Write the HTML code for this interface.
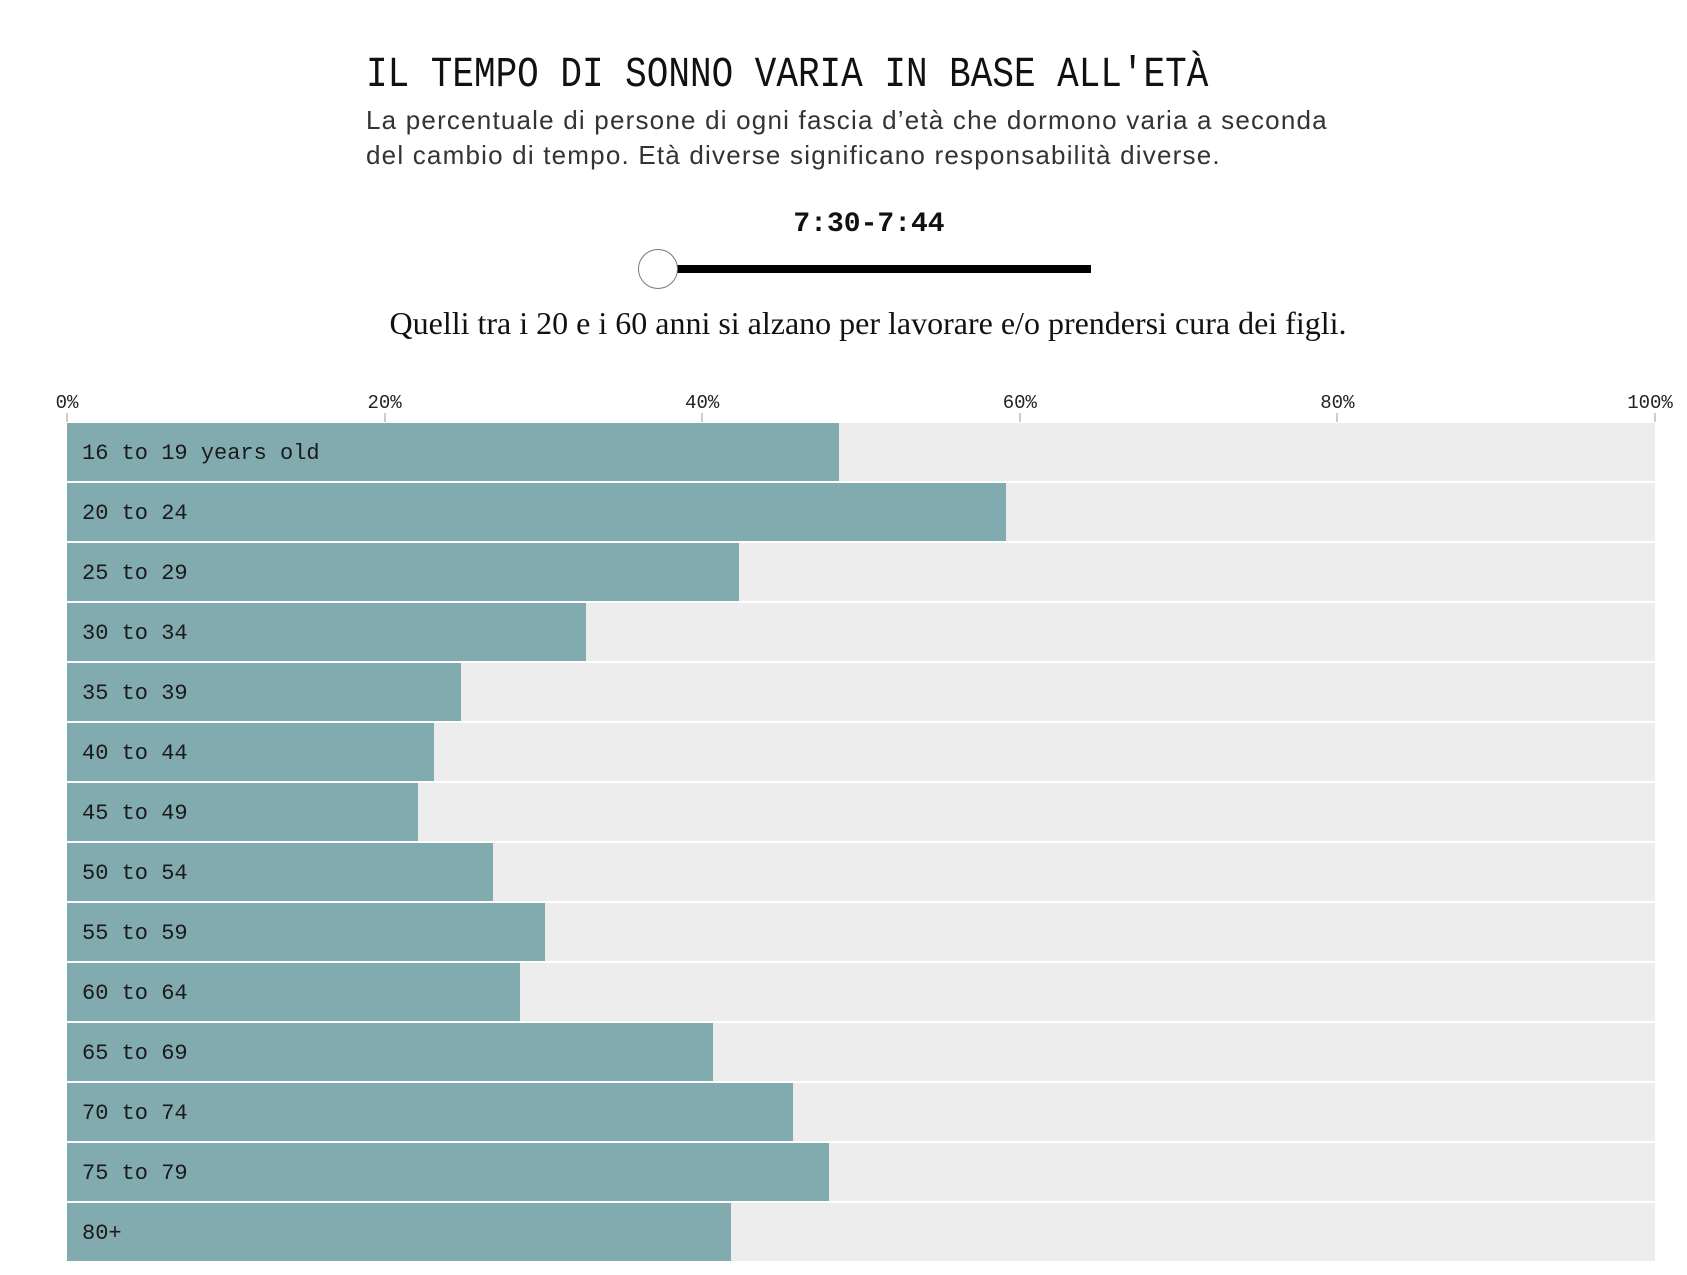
<!DOCTYPE html>
<html><head><meta charset="utf-8"><style>
body{margin:0;width:1687px;height:1275px;background:#fff;position:relative;overflow:hidden}
.a{position:absolute;white-space:nowrap}
.mono{font-family:"Liberation Mono",monospace}
.tk{font-size:19px;color:#222;transform:translateX(-50%);top:392px}
.tl{position:absolute;top:413px;width:2px;height:9px;background:#ccc}
.row{position:absolute;left:67px;width:1588px;height:58px;background:#ededed}
.bar{position:absolute;left:0;top:0;height:58px;background:#82abb0}
.lb{position:absolute;left:15px;top:2px;line-height:58px;font-size:22px;color:#1a1a1a;font-family:"Liberation Mono",monospace}
</style></head><body>
<div class="a mono" style="left:366px;top:50px;font-size:43px;color:#111;transform:scaleX(0.837);transform-origin:0 0">IL TEMPO DI SONNO VARIA IN BASE ALL'ETÀ</div>
<div class="a" style="left:366px;top:103px;font-family:'Liberation Sans',sans-serif;font-size:26px;letter-spacing:1.2px;line-height:35px;color:#333">La percentuale di persone di ogni fascia d’età che dormono varia a seconda<br>del cambio di tempo. Età diverse significano responsabilità diverse.</div>
<div class="a mono" style="left:869px;top:209px;transform:translateX(-50%);font-size:28px;font-weight:bold;color:#111">7:30-7:44</div>
<div class="a" style="left:658px;top:265px;width:433px;height:8px;background:#000"></div>
<div class="a" style="left:638px;top:249px;width:38px;height:38px;border:1.5px solid #777;border-radius:50%;background:#fff"></div>
<div class="a" style="left:868px;top:305px;transform:translateX(-50%);font-family:'Liberation Serif',serif;font-size:32px;color:#111">Quelli tra i 20 e i 60 anni si alzano per lavorare e/o prendersi cura dei figli.</div>
<div class="a mono tk" style="left:67px">0%</div>
<div class="a mono tk" style="left:384.6px">20%</div>
<div class="a mono tk" style="left:702.2px">40%</div>
<div class="a mono tk" style="left:1019.8px">60%</div>
<div class="a mono tk" style="left:1337.4px">80%</div>
<div class="a mono tk" style="left:1650px">100%</div>
<div class="tl" style="left:66px"></div><div class="tl" style="left:383.6px"></div><div class="tl" style="left:701.2px"></div><div class="tl" style="left:1018.8px"></div><div class="tl" style="left:1336.4px"></div><div class="tl" style="left:1654px"></div>
<div class="row" style="top:423px"><div class="bar" style="width:48.6%"></div><div class="lb">16 to 19 years old</div></div>
<div class="row" style="top:483px"><div class="bar" style="width:59.1%"></div><div class="lb">20 to 24</div></div>
<div class="row" style="top:543px"><div class="bar" style="width:42.3%"></div><div class="lb">25 to 29</div></div>
<div class="row" style="top:603px"><div class="bar" style="width:32.7%"></div><div class="lb">30 to 34</div></div>
<div class="row" style="top:663px"><div class="bar" style="width:24.8%"></div><div class="lb">35 to 39</div></div>
<div class="row" style="top:723px"><div class="bar" style="width:23.1%"></div><div class="lb">40 to 44</div></div>
<div class="row" style="top:783px"><div class="bar" style="width:22.1%"></div><div class="lb">45 to 49</div></div>
<div class="row" style="top:843px"><div class="bar" style="width:26.8%"></div><div class="lb">50 to 54</div></div>
<div class="row" style="top:903px"><div class="bar" style="width:30.1%"></div><div class="lb">55 to 59</div></div>
<div class="row" style="top:963px"><div class="bar" style="width:28.5%"></div><div class="lb">60 to 64</div></div>
<div class="row" style="top:1023px"><div class="bar" style="width:40.7%"></div><div class="lb">65 to 69</div></div>
<div class="row" style="top:1083px"><div class="bar" style="width:45.7%"></div><div class="lb">70 to 74</div></div>
<div class="row" style="top:1143px"><div class="bar" style="width:48.0%"></div><div class="lb">75 to 79</div></div>
<div class="row" style="top:1203px"><div class="bar" style="width:41.8%"></div><div class="lb">80+</div></div>
</body></html>
